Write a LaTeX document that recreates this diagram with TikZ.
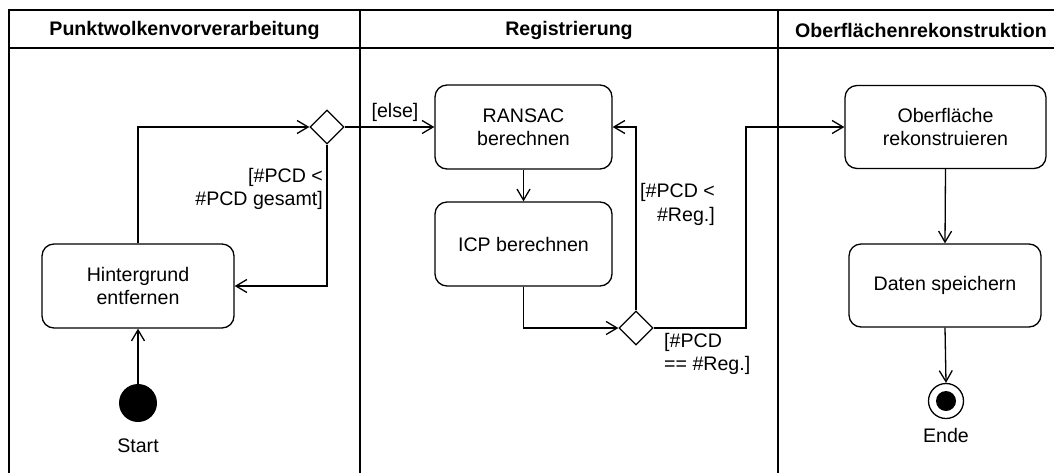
\documentclass[tikz,border=0pt]{standalone}
\usepackage{fontspec}
\setmainfont{Liberation Sans}
\usetikzlibrary{arrows.meta,shapes.geometric}

\tikzset{
  base/.style={line width=1.3pt},
  txt/.style={font=\fontsize{19.6}{23.5}\selectfont},
  hdr/.style={font=\fontsize{19.6}{23.5}\selectfont\bfseries},
  act/.style={base, txt, draw, rectangle, rounded corners=12pt, align=center, inner sep=2pt},
  choice/.style={base, draw, diamond, aspect=1, minimum width=34pt, minimum height=34pt, inner sep=0pt},
  arr/.style={base, -{Straight Barb[length=11pt,width=13pt,line width=1.3pt]}},
  guard/.style={txt, inner sep=0pt},
}

\begin{document}
\begin{tikzpicture}[x=1pt, y=-1pt]
  \useasboundingbox (0,0) rectangle (1054,472);

  % swimlane frame
  \draw[base] (9,10) rectangle (1070,485);
  \draw[base] (9,48) -- (1070,48);
  \draw[base] (360,10) -- (360,485);
  \draw[base] (778,10) -- (778,485);

  \node[hdr] (h1) at (184.5,30) {Punktwolkenvorverarbeitung};
  \node[hdr] (h2) at (569,30) {Registrierung};
  \node[hdr] (h3) at (921,30) {Oberflächenrekonstruktion};

  % actions
  \node[act, minimum width=192pt, minimum height=84pt] (hg) at (138,286) {Hintergrund\\entfernen};
  \node[act, minimum width=177pt, minimum height=84pt] (ran) at (523.5,127) {RANSAC\\berechnen};
  \node[act, minimum width=177pt, minimum height=84pt] (icp) at (523.5,244) {ICP berechnen};
  \node[act, minimum width=201pt, minimum height=83pt] (ober) at (945.5,127) {Oberfläche\\rekonstruieren};
  \node[act, minimum width=192pt, minimum height=83pt] (dat) at (945,285.5) {Daten speichern};

  % decisions
  \node[choice] (d1) at (327,127) {};
  \node[choice] (d2) at (636,328) {};

  % initial and final nodes
  \node[circle, fill=black, minimum size=38pt, inner sep=0pt] (start) at (138,403) {};
  \node[txt] (startlbl) at (138,446) {Start};
  \node[base, circle, draw, minimum size=35pt, inner sep=0pt,
        path picture={\fill (path picture bounding box.center) circle (10pt);}] (ende) at (946,401) {};
  \node[txt] (endelbl) at (946,435) {Ende};

  \coordinate (bend) at (746,328);

  % control flow
  \draw[arr] (start.north) -- (hg.south);
  \draw[arr] (hg.north) |- (d1.west);
  \draw[arr] (d1.south) |- (hg.east);
  \draw[arr] (d1.east) -- (ran.west);
  \draw[arr] (ran.south) -- (icp.north);
  \draw[arr] (icp.south) |- (d2.west);
  \draw[arr] (d2.north) |- (ran.east);
  \draw[arr] (d2.east) -- (bend) |- (ober.west);
  \draw[arr] (ober.south) -- (dat.north);
  \draw[arr] (dat.south) -- (ende.north);

  % guards
  \node[guard] (g0) at (395,112) {[else]};
  \node[guard, align=right, anchor=east] (g1) at (323,189) {[\#PCD <\\\#PCD gesamt]};
  \node[guard, align=right, anchor=east] (g2) at (715,204.5) {[\#PCD <\\\#Reg.]};
  \node[guard, align=left, anchor=west] (g3) at (664,354) {[\#PCD\\== \#Reg.]};
\end{tikzpicture}
\end{document}
